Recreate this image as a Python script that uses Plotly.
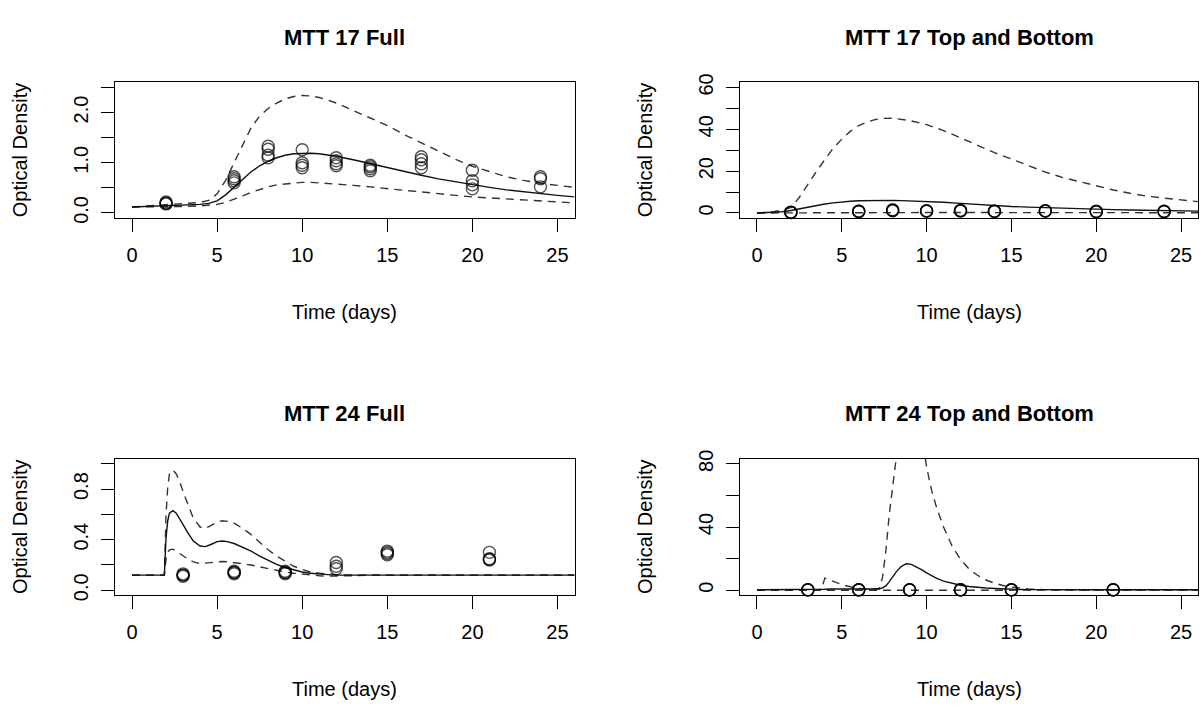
import plotly.graph_objects as go

W, H = 1201, 709

# ---------------- data ----------------
panel_titles = ["MTT 17 Full", "MTT 17 Top and Bottom", "MTT 24 Full", "MTT 24 Top and Bottom"]
x_label = "Time (days)"
y_label = "Optical Density"

x_tickvals = [0, 5, 10, 15, 20, 25]
x_ticktext = ["0", "5", "10", "15", "20", "25"]

# Panel 1: MTT 17 Full
p1_obs_t = [2, 2, 2, 2, 6, 6, 6, 6, 8, 8, 8, 8, 10, 10, 10, 10, 12, 12, 12, 12,
            14, 14, 14, 14, 17, 17, 17, 17, 20, 20, 20, 20, 24, 24, 24]
p1_obs_od = [0.18, 0.20, 0.22, 0.19, 0.72, 0.68, 0.64, 0.60, 1.33, 1.27, 1.15, 1.10,
             1.26, 1.00, 0.95, 0.90, 1.10, 1.04, 0.98, 0.94, 0.95, 0.92, 0.88, 0.84,
             1.12, 1.06, 0.98, 0.90, 0.85, 0.64, 0.56, 0.48, 0.72, 0.68, 0.52]
p1_curve_t = [0, 1, 2, 3, 4, 4.5, 5, 5.5, 6, 6.5, 7, 7.5, 8, 8.5, 9, 9.5, 10, 10.5, 11, 11.5,
              12, 13, 14, 15, 16, 17, 18, 19, 20, 21, 22, 23, 24, 25, 26]
p1_median = [0.12, 0.13, 0.14, 0.15, 0.17, 0.19, 0.24, 0.36, 0.52, 0.68, 0.82, 0.94, 1.03, 1.10,
             1.15, 1.18, 1.19, 1.19, 1.18, 1.16, 1.13, 1.06, 0.98, 0.90, 0.82, 0.75, 0.68, 0.62,
             0.56, 0.51, 0.46, 0.42, 0.38, 0.35, 0.32]
p1_upper = [0.12, 0.14, 0.17, 0.19, 0.21, 0.25, 0.38, 0.65, 1.00, 1.38, 1.70, 1.93, 2.08, 2.19,
            2.27, 2.32, 2.34, 2.33, 2.30, 2.25, 2.19, 2.04, 1.89, 1.74, 1.56, 1.40, 1.24, 1.07,
            0.93, 0.82, 0.72, 0.65, 0.59, 0.55, 0.51]
p1_lower = [0.12, 0.12, 0.13, 0.13, 0.14, 0.15, 0.17, 0.21, 0.27, 0.34, 0.41, 0.47, 0.52, 0.56,
            0.58, 0.60, 0.61, 0.61, 0.60, 0.59, 0.58, 0.55, 0.52, 0.48, 0.45, 0.42, 0.38, 0.35,
            0.32, 0.30, 0.27, 0.25, 0.23, 0.21, 0.20]
p1_ytickvals = [0, 0.5, 1.0, 1.5, 2.0, 2.5]
p1_yticktext = ["0.0", "", "1.0", "", "2.0", ""]
p1_yrange = [-0.1, 2.6]

# Panel 2: MTT 17 Top and Bottom
p2_obs_t = [2, 2, 2, 2, 6, 6, 6, 6, 8, 8, 8, 8, 10, 10, 10, 10, 12, 12, 12, 12,
            14, 14, 14, 14, 17, 17, 17, 17, 20, 20, 20, 20, 24, 24, 24, 24]
p2_obs_od = [0.2, 0.4, 0.3, 0.25, 0.6, 0.9, 0.8, 0.7, 1.2, 1.5, 1.0, 1.3, 0.8, 1.1, 1.0, 0.9,
             1.0, 1.3, 0.9, 1.1, 0.7, 0.9, 0.8, 0.75, 0.9, 1.1, 1.0, 0.95, 0.6, 0.8, 0.7, 0.65,
             0.6, 0.8, 0.7, 0.75]
p2_curve_t = [0, 1, 1.5, 2, 2.5, 3, 3.5, 4, 4.5, 5, 5.5, 6, 6.5, 7, 7.5, 8, 8.5, 9, 10, 11,
              12, 13, 14, 15, 16, 17, 18, 19, 20, 21, 22, 23, 24, 25, 26]
p2_median = [0.0, 0.2, 0.6, 1.2, 2.0, 2.8, 3.6, 4.3, 4.8, 5.3, 5.6, 5.8, 5.9, 6.0, 6.0, 6.0,
             5.9, 5.8, 5.6, 5.1, 4.6, 4.0, 3.5, 3.1, 2.8, 2.5, 2.2, 2.0, 1.8, 1.6, 1.4, 1.2,
             1.1, 1.0, 0.9]
p2_upper = [0.0, 0.6, 1.4, 2.5, 7.5, 13.8, 19.8, 25.5, 31.0, 35.3, 39.0, 41.8, 43.5, 44.7,
            45.2, 45.3, 44.9, 44.2, 42.2, 39.4, 35.9, 32.3, 28.8, 25.8, 22.6, 19.5, 17.0,
            15.0, 12.9, 11.0, 9.4, 8.0, 7.1, 6.2, 5.4]
p2_lower = [0.0, 0.05, 0.08, 0.1, 0.12, 0.13, 0.14, 0.15, 0.16, 0.17, 0.18, 0.19, 0.2, 0.2,
            0.2, 0.2, 0.2, 0.2, 0.2, 0.2, 0.2, 0.19, 0.18, 0.17, 0.16, 0.16, 0.15, 0.15,
            0.14, 0.14, 0.13, 0.13, 0.12, 0.12, 0.12]
p2_ytickvals = [0, 10, 20, 30, 40, 50, 60]
p2_yticktext = ["0", "", "20", "", "40", "", "60"]
p2_yrange = [-2.4, 62.4]

# Panel 3: MTT 24 Full
p3_obs_t = [3, 3, 3, 3, 6, 6, 6, 6, 9, 9, 9, 9, 12, 12, 12, 15, 15, 15, 15, 21, 21, 21, 21]
p3_obs_od = [0.12, 0.11, 0.13, 0.12, 0.14, 0.15, 0.13, 0.14, 0.14, 0.13, 0.15, 0.14,
             0.22, 0.19, 0.17, 0.31, 0.29, 0.28, 0.30, 0.30, 0.25, 0.24, 0.245]
p3_curve_t = [0, 1, 1.9, 2.0, 2.1, 2.2, 2.4, 2.6, 2.8, 3.0, 3.3, 3.6, 4.0, 4.3, 4.6, 5.0, 5.3,
              5.6, 6.0, 6.5, 7, 7.5, 8, 8.5, 9, 9.5, 10, 10.5, 11, 11.5, 12, 13, 14, 16, 18,
              20, 22, 24, 26]
p3_median = [0.12, 0.12, 0.12, 0.42, 0.55, 0.61, 0.63, 0.61, 0.57, 0.52, 0.45, 0.39, 0.35,
             0.345, 0.36, 0.385, 0.39, 0.385, 0.37, 0.34, 0.31, 0.27, 0.235, 0.205, 0.18,
             0.16, 0.145, 0.135, 0.128, 0.124, 0.12, 0.12, 0.12, 0.12, 0.12, 0.12, 0.12,
             0.12, 0.12]
p3_upper = [0.12, 0.12, 0.12, 0.60, 0.82, 0.92, 0.95, 0.92, 0.86, 0.78, 0.67, 0.57, 0.50,
            0.49, 0.51, 0.54, 0.55, 0.545, 0.53, 0.49, 0.44, 0.38, 0.32, 0.27, 0.23, 0.19,
            0.165, 0.145, 0.135, 0.128, 0.124, 0.12, 0.12, 0.12, 0.12, 0.12, 0.12, 0.12, 0.12]
p3_lower = [0.12, 0.12, 0.12, 0.25, 0.30, 0.32, 0.325, 0.31, 0.29, 0.27, 0.245, 0.225, 0.21,
            0.215, 0.22, 0.225, 0.228, 0.226, 0.22, 0.21, 0.20, 0.185, 0.17, 0.155, 0.145,
            0.135, 0.127, 0.12, 0.115, 0.112, 0.112, 0.115, 0.12, 0.12, 0.12, 0.12, 0.12,
            0.12, 0.12]
p3_ytickvals = [0, 0.2, 0.4, 0.6, 0.8, 1.0]
p3_yticktext = ["0.0", "", "0.4", "", "0.8", ""]
p3_yrange = [-0.04, 1.04]

# Panel 4: MTT 24 Top and Bottom
p4_obs_t = [3, 3, 3, 3, 6, 6, 6, 6, 9, 9, 9, 9, 12, 12, 12, 12, 15, 15, 15, 15, 21, 21, 21, 21]
p4_obs_od = [0.2, 0.4, 0.3, 0.25, 0.2, 0.4, 0.3, 0.25, 0.2, 0.4, 0.3, 0.25, 0.2, 0.4, 0.3, 0.25,
             0.2, 0.4, 0.3, 0.25, 0.2, 0.4, 0.3, 0.25]
p4_curve_t = [0, 1, 2, 3, 3.8, 4.0, 4.3, 4.7, 5.0, 5.5, 6.0, 6.5, 7.0, 7.2, 7.4, 7.6, 7.8,
              8.0, 8.2, 8.5, 8.8, 9.1, 9.4, 9.7, 10.0, 10.3, 10.6, 11.0, 11.5, 12.0, 12.5,
              13.0, 13.5, 14.0, 14.5, 15.0, 15.5, 16, 17, 18, 20, 22, 24, 26]
p4_median = [0.3, 0.3, 0.3, 0.3, 0.4, 0.6, 0.8, 0.8, 0.7, 0.6, 0.5, 0.5, 0.6, 0.8, 1.5, 2.8,
             5.5, 8.5, 11.5, 15.0, 16.8, 16.4, 14.9, 13.0, 11.0, 9.0, 7.5, 5.8, 4.3, 3.2,
             2.4, 1.8, 1.4, 1.1, 0.8, 0.6, 0.5, 0.4, 0.3, 0.3, 0.3, 0.3, 0.3, 0.3]
p4_upper = [0.0, 0.0, 0.0, 0.1, 0.5, 7.7, 6.5, 4.8, 3.6, 2.2, 1.2, 0.9, 0.8, 1.0, 8.0, 25.0,
            48.0, 72.0, 97.0, 120.0, 135.0, 135.0, 125.0, 100.0, 78.0, 63.0, 52.0, 40.0,
            28.0, 19.5, 13.5, 9.5, 6.5, 4.5, 3.0, 2.0, 1.3, 0.9, 0.4, 0.2, 0.1, 0.1, 0.1, 0.1]
p4_lower = [0.0, 0.0, 0.05, 0.05, 0.1, 0.1, 0.1, 0.1, 0.1, 0.1, 0.1, 0.1, 0.1, 0.1, 0.1, 0.1,
            0.1, 0.1, 0.1, 0.1, 0.1, 0.1, 0.1, 0.1, 0.1, 0.1, 0.1, 0.1, 0.1, 0.1, 0.1, 0.1,
            0.1, 0.1, 0.1, 0.1, 0.1, 0.1, 0.1, 0.1, 0.1, 0.1, 0.1, 0.1]
p4_ytickvals = [0, 20, 40, 60, 80]
p4_yticktext = ["0", "", "40", "", "80"]
p4_yrange = [-3.2, 83.2]

# ---------------- layout geometry (pixels) ----------------
FONT = "Liberation Sans, Arial, Helvetica, sans-serif"
TICK_SIZE = 20
LAB_SIZE = 20
MAIN_SIZE = 22
col_x = [(115, 574.5), (740, 1198)]
row_y = [(75, 213.5), (459.5, 599)]

panels = [
    (p1_obs_t, p1_obs_od, p1_curve_t, p1_median, p1_upper, p1_lower, p1_ytickvals, p1_yticktext, p1_yrange),
    (p2_obs_t, p2_obs_od, p2_curve_t, p2_median, p2_upper, p2_lower, p2_ytickvals, p2_yticktext, p2_yrange),
    (p3_obs_t, p3_obs_od, p3_curve_t, p3_median, p3_upper, p3_lower, p3_ytickvals, p3_yticktext, p3_yrange),
    (p4_obs_t, p4_obs_od, p4_curve_t, p4_median, p4_upper, p4_lower, p4_ytickvals, p4_yticktext, p4_yrange),
]

fig = go.Figure()
layout = dict(
    width=W, height=H,
    margin=dict(l=0, r=0, t=0, b=0),
    paper_bgcolor="white", plot_bgcolor="white",
    showlegend=False,
    font=dict(family=FONT, color="black", size=TICK_SIZE),
)
annotations = []

for i, (ot, oy, ct, med, up, lo, ytv, ytt, yr) in enumerate(panels):
    r, c = divmod(i, 2)
    x0, x1 = col_x[c]
    y0, y1 = row_y[r]
    xa = "x" if i == 0 else f"x{i+1}"
    ya = "y" if i == 0 else f"y{i+1}"
    xkey = "xaxis" if i == 0 else f"xaxis{i+1}"
    ykey = "yaxis" if i == 0 else f"yaxis{i+1}"

    layout[xkey] = dict(
        domain=[x0 / W, x1 / W], range=[-1, 26], anchor=ya,
        tickvals=x_tickvals, ticktext=x_ticktext,
        ticks="outside", ticklen=13, tickwidth=1, tickcolor="black",
        showline=True, mirror=True, linecolor="black", linewidth=1,
        showgrid=False, zeroline=False,
        tickfont=dict(family=FONT, size=TICK_SIZE, color="black"),
        ticklabelstandoff=6,
    )
    layout[ykey] = dict(
        domain=[1 - y1 / H, 1 - y0 / H], range=yr, anchor=xa,
        tickvals=ytv, ticktext=ytt, tickangle=-90,
        ticks="outside", ticklen=13, tickwidth=1, tickcolor="black",
        showline=True, mirror=True, linecolor="black", linewidth=1,
        showgrid=False, zeroline=False,
        tickfont=dict(family=FONT, size=TICK_SIZE, color="black"),
        ticklabelstandoff=5,
    )

    # curves
    for vals, dash, col in ((up, "8px,6px", "#333333"), (lo, "8px,6px", "#333333"), (med, "solid", "#111111")):
        fig.add_trace(go.Scatter(
            x=ct, y=vals, mode="lines", xaxis=xa, yaxis=ya,
            line=dict(color=col, width=1.4, dash=dash), hoverinfo="skip",
        ))
    # observations
    fig.add_trace(go.Scatter(
        x=ot, y=oy, mode="markers", xaxis=xa, yaxis=ya,
        marker=dict(symbol="circle-open", size=12, color="rgba(0,0,0,0.68)",
                    line=dict(width=1.4, color="rgba(0,0,0,0.68)")),
        cliponaxis=False,
    ))

    cx = (x0 + x1) / 2 / W
    annotations.append(dict(
        text=f"<b>{panel_titles[i]}</b>", x=cx, y=1 - (y0 - 46) / H,
        xref="paper", yref="paper", xanchor="center", yanchor="middle",
        showarrow=False, font=dict(family=FONT, size=MAIN_SIZE, color="black"),
    ))
    annotations.append(dict(
        text=x_label, x=cx, y=1 - (y1 + 96) / H,
        xref="paper", yref="paper", xanchor="center", yanchor="middle",
        showarrow=False, font=dict(family=FONT, size=LAB_SIZE, color="black"),
    ))
    annotations.append(dict(
        text=y_label, x=(x0 - 95) / W, y=1 - (y0 + y1) / 2 / H,
        xref="paper", yref="paper", xanchor="center", yanchor="middle",
        textangle=-90, showarrow=False, font=dict(family=FONT, size=LAB_SIZE, color="black"),
    ))

layout["annotations"] = annotations
fig.update_layout(**layout)
fig.write_html("out.html")
